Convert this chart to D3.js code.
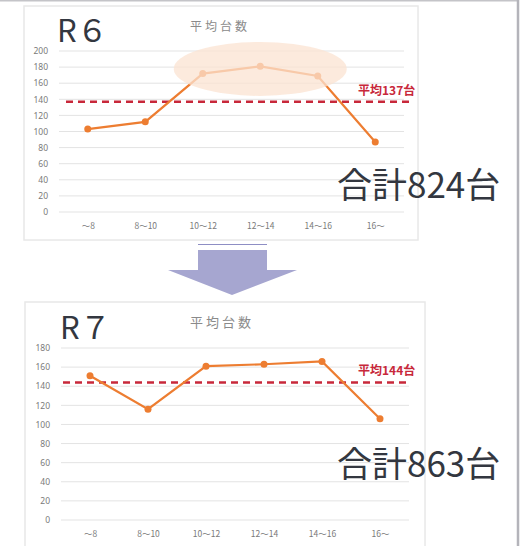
<!DOCTYPE html>
<html>
<head>
<meta charset="utf-8">
<script src="https://cdn.jsdelivr.net/npm/d3@7"></script>
<style>
  body { margin: 0; background: #fff; }
  svg { display: block; font-family: "Noto Sans CJK JP", "Noto Sans", sans-serif; }
</style>
</head>
<body>
<div id="canvas"></div>
<script>
// Data
var categories = ["～8", "8～10", "10～12", "12～14", "14～16", "16～"]
var r6_values = [103, 112, 172, 181, 169, 87]
var r7_values = [151, 116, 161, 163, 166, 106]
var r6_ticks = [0, 20, 40, 60, 80, 100, 120, 140, 160, 180, 200]
var r7_ticks = [0, 20, 40, 60, 80, 100, 120, 140, 160, 180]
var r6_avg = 137, r7_avg = 144
var r6_total = 824, r7_total = 863
var highlight_cats = ["10～12", "12～14", "14～16"] // R6 peak band

// Display variables
var total_width = 528, total_height = 546
var line_colour = "#ed7d31"
var avg_colour = "#c8283a"
var grid_colour = "#e3e3e3"
var tick_colour = "#7a7a7a"
var text_colour = "#333740"

var svg = d3.select("#canvas").append("svg").attr("width", total_width).attr("height", total_height)

// Outer frame lines (top + right)
svg.append("line").attr("x1", 0).attr("x2", 519).attr("y1", 0.5).attr("y2", 0.5)
    .attr("stroke", "#c4c4c8").attr("stroke-width", 2)
svg.append("line").attr("x1", 518).attr("x2", 518).attr("y1", 0).attr("y2", total_height)
    .attr("stroke", "#b4b4ba").attr("stroke-width", 2.5)

function draw_panel(p) {
    var g = svg.append("g")
    // panel box
    g.append("rect").attr("x", p.box[0]).attr("y", p.box[1]).attr("width", p.box[2]).attr("height", p.box[3])
        .attr("fill", "#fff").attr("stroke", "#e8e8e8").attr("stroke-width", 1.5)

    var x = d3.scalePoint().domain(p.cats).range([p.left, p.right]).padding(0.5)
    var y = d3.scaleLinear().domain([0, d3.max(p.ticks)]).range([p.bottom, p.top])

    // grid
    g.selectAll(".grid").data(p.ticks).enter().append("line")
        .attr("x1", p.left).attr("x2", p.right)
        .attr("y1", d => y(d)).attr("y2", d => y(d))
        .attr("stroke", grid_colour).attr("stroke-width", 1)

    // y axis labels
    var ya = g.append("g").attr("transform", "translate(" + (p.left - 11) + ",0)")
        .call(d3.axisLeft(y).tickValues(p.ticks).tickSize(0).tickPadding(0))
    ya.select(".domain").remove()
    ya.selectAll("text").attr("fill", tick_colour).style("font-size", "8.5px").style("font-family", "Noto Sans")

    // x axis labels
    var xa = g.append("g").attr("transform", "translate(0," + (p.bottom + 11) + ")")
        .call(d3.axisBottom(x).tickSize(0).tickPadding(0))
    xa.select(".domain").remove()
    xa.selectAll("text").attr("fill", tick_colour).style("font-size", "8.5px").style("font-family", "Noto Sans CJK JP")

    // title
    g.append("text").attr("x", p.title_x).attr("y", p.title_y).attr("text-anchor", "middle")
        .attr("fill", "#8a8a8a").style("font-size", p.title_size + "px").style("letter-spacing", "3px")
        .text("平均台数")

    // average line
    g.append("line").attr("x1", p.avg_x[0]).attr("x2", p.avg_x[1])
        .attr("y1", y(p.avg)).attr("y2", y(p.avg))
        .attr("stroke", avg_colour).attr("stroke-width", 2.5).attr("stroke-dasharray", "7,5")
    g.append("text").attr("x", 358).attr("y", y(p.avg) - p.avg_dy)
        .attr("fill", avg_colour).style("font-size", "12px").style("font-weight", "bold")
        .text("平均" + p.avg + "台")

    // series
    var line = d3.line().x((d, i) => x(p.cats[i])).y(d => y(d))
    g.append("path").datum(p.values).attr("d", line)
        .attr("fill", "none").attr("stroke", line_colour).attr("stroke-width", 2.2)
    g.selectAll(".pt").data(p.values).enter().append("circle")
        .attr("cx", (d, i) => x(p.cats[i])).attr("cy", d => y(d)).attr("r", 3.5)
        .attr("fill", line_colour)

    // highlight ellipse over peak
    if (p.highlight) {
        var hx = p.highlight.map(c => x(c))
        var hv = p.highlight.map(c => p.values[p.cats.indexOf(c)])
        g.append("ellipse")
            .attr("cx", (hx[0] + hx[hx.length - 1]) / 2)
            .attr("cy", y(d3.mean(hv)) - 3)
            .attr("rx", (hx[hx.length - 1] - hx[0]) / 2 + 29)
            .attr("ry", 27)
            .attr("fill", "#fbe3d2").attr("opacity", 0.75)
    }

    // labels
    g.append("text").attr("x", p.r_x).attr("y", p.r_y).attr("fill", text_colour)
        .style("font-size", "31px").style("font-family", "Noto Sans CJK JP").text(p.label)
    g.append("text").attr("x", 337).attr("y", p.total_y).attr("fill", text_colour)
        .style("font-size", "35px").style("font-family", "Noto Sans CJK JP").text("合計" + p.total + "台")
}

draw_panel({
    box: [24, 6, 394, 234], cats: categories, values: r6_values, ticks: r6_ticks,
    left: 59, right: 404, top: 51, bottom: 212,
    title_x: 220, title_y: 31, title_size: 12,
    avg: r6_avg, avg_x: [66, 414], avg_dy: 7, highlight: highlight_cats,
    label: "R６", r_x: 57, r_y: 42, total: r6_total, total_y: 198
})

// Arrow between panels
svg.append("line").attr("x1", 198).attr("x2", 267).attr("y1", 244.5).attr("y2", 244.5)
    .attr("stroke", "#8e8ec4").attr("stroke-width", 1)
svg.append("polygon")
    .attr("points", [[198, 250], [267, 250], [267, 270], [297, 270], [232, 295], [168, 270], [198, 270]].join(" "))
    .attr("fill", "#a6a6d0")

draw_panel({
    box: [25, 302, 400, 250], cats: categories, values: r7_values, ticks: r7_ticks,
    left: 61, right: 409, top: 348, bottom: 520,
    title_x: 222, title_y: 327, title_size: 13,
    avg: r7_avg, avg_x: [63, 407], avg_dy: 7, highlight: null,
    label: "R７", r_x: 60, r_y: 339, total: r7_total, total_y: 477
})
</script>
</body>
</html>
